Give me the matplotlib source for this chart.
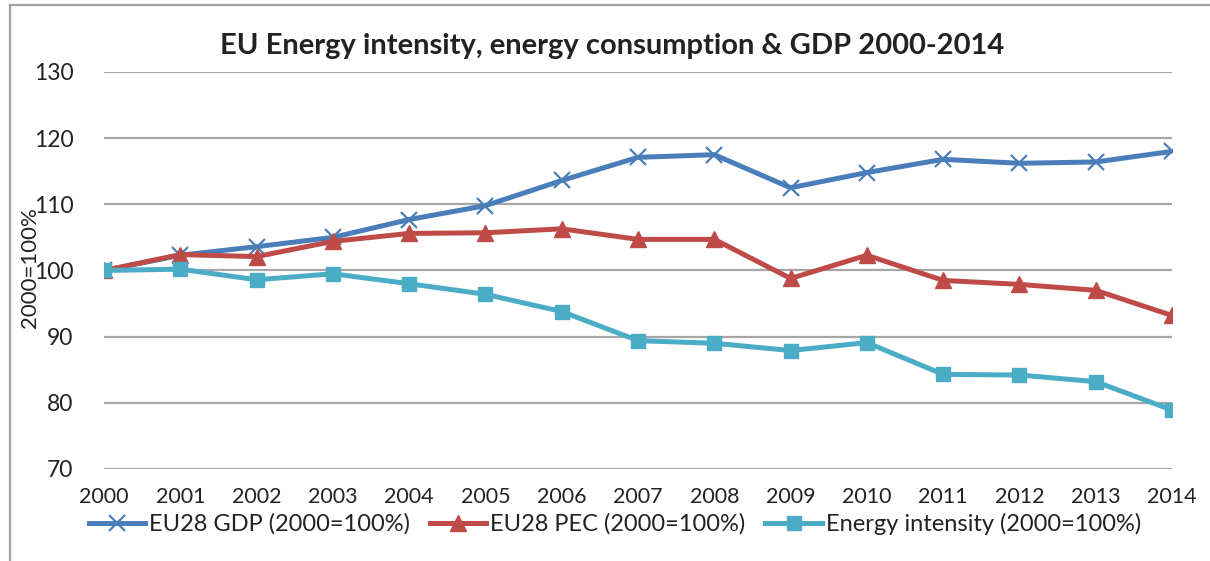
import matplotlib
matplotlib.use('Agg')
import matplotlib.pyplot as plt
from matplotlib.lines import Line2D

# Данные графика
years = [2000, 2001, 2002, 2003, 2004, 2005, 2006, 2007,
         2008, 2009, 2010, 2011, 2012, 2013, 2014]
gdp = [100, 102.3, 103.6, 105.0, 107.7, 109.8, 113.6, 117.1,
       117.5, 112.5, 114.8, 116.8, 116.2, 116.4, 118.0]
pec = [100, 102.4, 102.1, 104.4, 105.6, 105.7, 106.3, 104.7,
       104.7, 98.8, 102.3, 98.5, 97.9, 97.0, 93.2]
intensity = [100, 100.2, 98.6, 99.5, 98.0, 96.4, 93.8, 89.4,
             89.0, 87.9, 89.1, 84.3, 84.2, 83.2, 78.9]
labels = ["EU28 GDP (2000=100%)", "EU28 PEC (2000=100%)",
          "Energy intensity (2000=100%)"]
y_ticks = [70, 80, 90, 100, 110, 120, 130]

plt.rcParams['font.family'] = ['Lato', 'DejaVu Sans']

fig = plt.figure(figsize=(12.1, 5.61), dpi=100)
ax = fig.add_axes([0.086, 0.164, 0.8826, 0.7077])

# рамка вокруг диаграммы
fig.add_artist(Line2D([10 / 1210, 10 / 1210], [0, 1 - 5 / 561],
                      transform=fig.transFigure, color="#A0A0A0", lw=1.6))
fig.add_artist(Line2D([10 / 1210, 1], [1 - 5 / 561, 1 - 5 / 561],
                      transform=fig.transFigure, color="#A0A0A0", lw=1.6))
# обрезанная подпись сверху (в оригинале видны только нижние хвосты букв)
fig.text(10 / 1210, 1 + 7 / 561, "Figure 3: EU28 Final Energy, consumption",
         color="#4F81BD", fontsize=14, fontweight="bold", va="baseline")

ax.plot(years, gdp, color="#4A7EBB", lw=3.6, marker="x", markersize=12,
        markeredgewidth=1.6, label=labels[0])
ax.plot(years, pec, color="#BE4B48", lw=3.6, marker="^", markersize=11,
        label=labels[1])
ax.plot(years, intensity, color="#4BACC6", lw=3.6, marker="s", markersize=10,
        label=labels[2])

ax.set_xlim(2000, 2014)
ax.set_ylim(70, 130)
ax.set_yticks(y_ticks)
ax.set_xticks(years)
ax.set_xticklabels([str(y) for y in years])
ax.grid(axis="y", color="#A6A6A6", lw=1.6)
ax.set_axisbelow(True)
for s in ax.spines.values():
    s.set_visible(False)
ax.tick_params(length=0, colors="#222222")
ax.tick_params(axis="y", pad=22, labelsize=16.5)
ax.tick_params(axis="x", pad=13, labelsize=15.5)
for lb in ax.get_xticklabels() + ax.get_yticklabels():
    lb.set_clip_on(False)

fig.text(612 / 1210, 1 - 46 / 561,
         "EU Energy intensity, energy consumption & GDP 2000-2014",
         fontsize=21, fontweight="bold", color="#222222",
         ha="center", va="center")
fig.text(30 / 1210, 1 - 268 / 561, "2000=100%", rotation=90, fontsize=16,
         color="#222222", ha="center", va="center")

fig.legend(loc="center", bbox_to_anchor=(0.508, 1 - 524 / 561), ncol=3,
           frameon=False, fontsize=17, handlelength=2.4, handletextpad=0.15,
           columnspacing=0.85, labelcolor="#222222")

plt.savefig("out.png", dpi=100)
